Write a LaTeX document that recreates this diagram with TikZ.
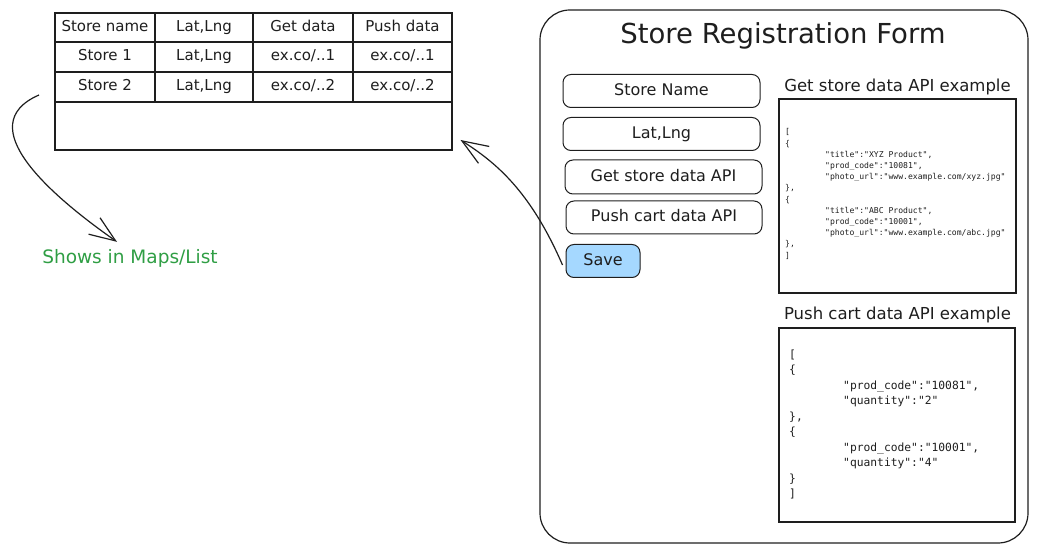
\documentclass[tikz,border=0pt]{standalone}
\usepackage{fontspec}
\setmainfont{DejaVu Sans}
\newfontfamily\codefont{DejaVu Sans Mono}
\usetikzlibrary{arrows.meta}
\definecolor{savefill}{RGB}{165,216,255}
\definecolor{showgreen}{RGB}{47,158,68}
\definecolor{ink}{RGB}{30,30,30}
\begin{document}
\begin{tikzpicture}[x=1pt,y=-1pt,
  every node/.style={text=ink},
  cell/.style={draw=ink, line width=1.1pt, inner sep=0pt, text height=11pt, text depth=3pt, font=\fontsize{15}{18}\selectfont},
  field/.style={draw=ink, line width=1pt, rounded corners=8pt, inner sep=0pt, text height=12pt, text depth=3.5pt, font=\fontsize{16}{19}\selectfont},
  lbl/.style={inner sep=0pt, font=\fontsize{16.5}{20}\selectfont},
  codebox/.style={draw=ink, line width=1.2pt, inner sep=0pt},
  codetxt/.style={inner sep=0pt, align=left, anchor=north west},
  arr/.style={draw=ink, line width=1.2pt, -{Straight Barb[length=26pt,width=20pt]}},
]
\useasboundingbox (0,0) rectangle (1037,553);

% ---- table ----
\node[cell, minimum width=100pt, minimum height=29pt] (h1) at (105,27.5) {Store name};
\node[cell, minimum width=98pt,  minimum height=29pt] (h2) at (204,27.5) {Lat,Lng};
\node[cell, minimum width=100pt, minimum height=29pt] (h3) at (303,27.5) {Get data};
\node[cell, minimum width=99pt,  minimum height=29pt] (h4) at (402.5,27.5) {Push data};
\node[cell, minimum width=100pt, minimum height=30pt] (r11) at (105,57) {Store 1};
\node[cell, minimum width=98pt,  minimum height=30pt] (r12) at (204,57) {Lat,Lng};
\node[cell, minimum width=100pt, minimum height=30pt] (r13) at (303,57) {ex.co/..1};
\node[cell, minimum width=99pt,  minimum height=30pt] (r14) at (402.5,57) {ex.co/..1};
\node[cell, minimum width=100pt, minimum height=30pt] (r21) at (105,87) {Store 2};
\node[cell, minimum width=98pt,  minimum height=30pt] (r22) at (204,87) {Lat,Lng};
\node[cell, minimum width=100pt, minimum height=30pt] (r23) at (303,87) {ex.co/..2};
\node[cell, minimum width=99pt,  minimum height=30pt] (r24) at (402.5,87) {ex.co/..2};
\node[cell, minimum width=397pt, minimum height=48pt] (blank) at (253.5,126) {};

% ---- shows label ----
\node[inner sep=0pt, text=showgreen, font=\fontsize{18.5}{22}\selectfont] (shows) at (130,258) {Shows in Maps/List};

% ---- form ----
\node[draw=ink, line width=1.2pt, rounded corners=30pt, minimum width=488pt, minimum height=533pt, inner sep=0pt] (form) at (784,276.5) {};
\node[inner sep=0pt, font=\fontsize{27.5}{32}\selectfont] (title) at (783,36) {Store Registration Form};

\node[field, minimum width=197pt, minimum height=33pt] (fname) at (661.5,91) {Store Name};
\node[field, minimum width=197pt, minimum height=33pt] (flat) at (661.5,134) {Lat,Lng};
\node[field, minimum width=197pt, minimum height=34pt] (fget) at (663.5,177) {Get store data API};
\node[field, minimum width=196pt, minimum height=33pt] (fpush) at (664,217.5) {Push cart data API};
\node[field, fill=savefill, minimum width=74pt, minimum height=33pt] (save) at (603,261) {Save};

\node[lbl] (lget) at (897.5,87) {Get store data API example};
\node[lbl] (lpush) at (897.5,315) {Push cart data API example};

\node[codebox, minimum width=237pt, minimum height=194pt] (cget) at (897.5,196) {};
\node[codebox, minimum width=236pt, minimum height=194pt] (cpush) at (897,425) {};

\node[codetxt, font=\codefont\fontsize{8.1}{11.2}\selectfont] (tget) at (785,128.5) {%
[\\
\{\\
\hspace*{40pt}"title":"XYZ Product",\\
\hspace*{40pt}"prod\_code":"10081",\\
\hspace*{40pt}"photo\_url":"www.example.com/xyz.jpg"\\
\},\\
\{\\
\hspace*{40pt}"title":"ABC Product",\\
\hspace*{40pt}"prod\_code":"10001",\\
\hspace*{40pt}"photo\_url":"www.example.com/abc.jpg"\\
\},\\
]};

\node[codetxt, font=\codefont\fontsize{11.3}{15.5}\selectfont] (tpush) at (789,349.5) {%
[\\
\{\\
\hspace*{54pt}"prod\_code":"10081",\\
\hspace*{54pt}"quantity":"2"\\
\},\\
\{\\
\hspace*{54pt}"prod\_code":"10001",\\
\hspace*{54pt}"quantity":"4"\\
\}\\
]};

% ---- arrows ----
\coordinate (a1s) at (39,95);
\draw[arr] (a1s) .. controls (-30,125) and (50,195) .. ([xshift=-13pt,yshift=7pt]shows.north);
\draw[arr] ([yshift=-4pt,xshift=-3pt]save.west) .. controls (530,190) and (495,162) .. ([xshift=8pt,yshift=-14pt]blank.east);
\end{tikzpicture}
\end{document}
